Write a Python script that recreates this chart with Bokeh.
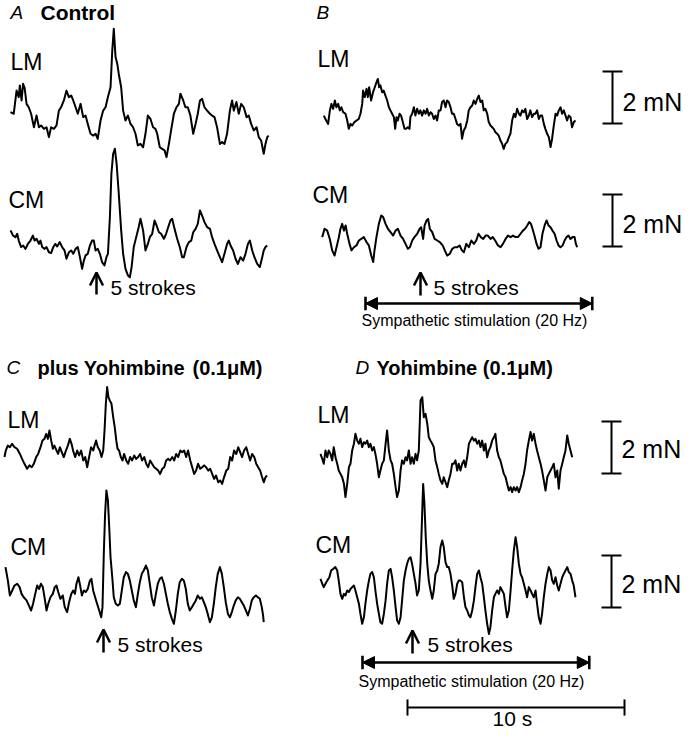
from bokeh.plotting import figure
from bokeh.models import Range1d, Arrow, OpenHead, NormalHead
from bokeh.core.properties import value
from bokeh.embed import file_html
from bokeh.resources import INLINE

# ---------------- data: time (s) and force (mN, relative to trace baseline) ----------------
A_LM_T = [0, .15, .28, .38, .43, .51, .58, .65, .74, .84, .95, 1.08, 1.20, 1.31, 1.41, 1.54, 1.66, 1.77, 1.87, 2.00,
          2.12, 2.23, 2.33, 2.46, 2.58, 2.69, 2.80, 2.89, 3.00, 3.10, 3.23, 3.35, 3.46, 3.56, 3.69, 3.81, 3.92, 4.02, 4.15, 4.27,
          4.38, 4.49, 4.61, 4.69, 4.76, 4.84, 4.92, 4.99, 5.10, 5.19, 5.30, 5.41, 5.53, 5.65, 5.76, 5.87, 5.99, 6.11, 6.22, 6.33,
          6.45, 6.57, 6.68, 6.76, 6.88, 6.99, 7.10, 7.19, 7.30, 7.40, 7.53, 7.65, 7.76, 7.83, 7.96, 8.06, 8.17, 8.29, 8.42, 8.53,
          8.63, 8.73, 8.83, 8.94, 9.06, 9.19, 9.29, 9.40, 9.52, 9.65, 9.75, 9.86, 9.98, 10.11, 10.21, 10.29, 10.41, 10.52, 10.63, 10.75,
          10.88, 10.98, 11.09, 11.21, 11.34, 11.44, 11.55, 11.67, 11.75, 11.83, 11.90]
A_LM_F = [.32, .26, 1.15, .90, 1.35, .77, 1.41, 1.26, .64, .51, .26, -.26, .19, -.26, -.19, -.32, -.26, -.64, -.26, -.32,
          -.19, .38, .51, .77, 1.15, .90, .96, .77, .51, .26, .64, .13, .19, -.13, -.51, -.58, -.51, -.71, 0, .38,
          .51, .90, 1.28, 2.69, 3.53, 2.44, 2.18, 1.79, 1.28, .38, 0, .19, -.13, -.26, -.51, -.96, -.90, -1.03, -.51, .19,
          .06, -.26, -.32, -.51, -1.03, -1.09, -1.15, -1.41, -.90, -.38, .26, .51, .64, 1.03, .77, .51, .51, .19, -.51, -.13,
          .26, .77, .83, .51, .38, .26, .19, .13, -.26, -.90, -.83, -.90, -.51, .38, .77, .38, .71, .26, .64, .51,
          .13, .19, -.13, -.38, -.26, -.64, -.77, -1.28, -.90, -.64, -.58]

A_CM_T = [0, .12, .23, .31, .38, .49, .58, .69, .80, .92, 1.03, 1.11, 1.20, 1.31, 1.38, 1.46, 1.57, 1.66, 1.77, 1.87,
          1.97, 2.07, 2.15, 2.27, 2.38, 2.49, 2.58, 2.69, 2.80, 2.89, 3.00, 3.10, 3.20, 3.30, 3.38, 3.46, 3.56, 3.66, 3.76, 3.84,
          3.92, 4.02, 4.12, 4.22, 4.33, 4.42, 4.49, 4.58, 4.65, 4.73, 4.81, 4.89, 4.99, 5.10, 5.19, 5.30, 5.41, 5.50, 5.58, 5.68,
          5.81, 5.91, 5.99, 6.11, 6.22, 6.33, 6.42, 6.53, 6.64, 6.73, 6.84, 6.94, 7.07, 7.17, 7.27, 7.37, 7.45, 7.56, 7.68, 7.80,
          7.91, 7.99, 8.11, 8.22, 8.33, 8.42, 8.53, 8.63, 8.73, 8.83, 8.94, 9.06, 9.19, 9.29, 9.40, 9.52, 9.65, 9.75, 9.86, 9.98,
          10.06, 10.14, 10.26, 10.37, 10.48, 10.60, 10.72, 10.83, 10.94, 11.03, 11.14, 11.24, 11.37, 11.49, 11.60, 11.67, 11.75, 11.83]
A_CM_F = [.58, .38, .32, .45, .19, -.06, 0, -.13, .06, .19, .38, .19, .26, .06, .19, -.06, -.13, -.06, -.26, -.29,
          -.06, .06, -.04, .13, -.06, -.19, -.51, -.26, -.19, -.32, -.13, -.06, -.45, -.90, -.58, -.38, -.32, 0, .19, .19,
          -.19, -.13, -.32, -.64, -.77, -.45, -.32, 1.09, 2.76, 3.53, 3.72, 3.14, 1.99, .58, -.32, -.90, -1.15, -1.22, -.83, -.06,
          .38, .71, 1.03, .58, -.19, .06, .32, .45, .96, .77, .51, .45, .26, .45, .71, .96, 1.03, .64, .26, -.06,
          -.45, -.45, -.06, .13, .19, .51, .64, .83, 1.35, 1.15, .90, .71, .64, .32, .06, -.19, -.45, -.64, -.32, .06,
          .19, 0, -.19, -.51, -.71, -.45, -.58, -.32, .06, .19, -.19, -.45, -.71, -.83, -.45, -.19, -.06, 0]

B_LM_T = [0, .11, .20, .28, .35, .43, .51, .58, .66, .74, .81, .89, 1.00, 1.08, 1.15, 1.23, 1.31, 1.41, 1.51, 1.61,
          1.69, 1.77, 1.81, 1.89, 1.97, 2.03, 2.09, 2.18, 2.27, 2.35, 2.43, 2.49, 2.55, 2.61, 2.69, 2.76, 2.84, 2.92, 3.00, 3.07,
          3.15, 3.23, 3.29, 3.35, 3.41, 3.49, 3.56, 3.64, 3.72, 3.79, 3.87, 3.95, 3.99, 4.07, 4.15, 4.22, 4.30, 4.38, 4.45, 4.53,
          4.61, 4.69, 4.76, 4.84, 4.92, 4.99, 5.07, 5.15, 5.22, 5.30, 5.38, 5.45, 5.53, 5.61, 5.68, 5.76, 5.84, 5.91, 5.99, 6.07,
          6.14, 6.22, 6.30, 6.37, 6.45, 6.53, 6.61, 6.68, 6.76, 6.84, 6.91, 6.99, 7.07, 7.14, 7.22, 7.30, 7.37, 7.45, 7.53, 7.60,
          7.68, 7.76, 7.83, 7.91, 7.99, 8.06, 8.14, 8.22, 8.29, 8.37, 8.45, 8.53, 8.60, 8.68, 8.76, 8.83, 8.91, 8.99, 9.06, 9.14,
          9.22, 9.29, 9.37, 9.45, 9.52, 9.60, 9.68, 9.75, 9.83, 9.91, 9.98, 10.06, 10.14, 10.21, 10.29, 10.37, 10.45, 10.52, 10.60, 10.68,
          10.75, 10.83, 10.91, 10.98, 11.06, 11.14, 11.21, 11.29, 11.37, 11.44, 11.52, 11.60]
B_LM_F = [-.58, -.77, -.90, -.38, -.13, -.32, 0, -.26, -.13, -.38, -.26, -.45, -.51, -.77, -1.09, -.90, -.96, -.83, -.77, -.71,
          -.51, -.13, .38, .13, .45, .13, .51, 0, .32, .51, .71, .83, .51, .58, .32, .38, .19, 0, -.26, -.38,
          -.51, -.64, -1.09, -.64, -.77, -.51, -.58, -.83, -1.09, -1.09, -1.03, -1.09, -.64, -.51, -.26, -.58, -.32, -.51, -.38, -.58,
          -.38, -.51, -.32, -.58, -.45, -.51, -.71, -.58, -.77, -.38, -.38, -.06, 0, -.26, 0, -.06, -.26, -.51, -.51, -.71,
          -.90, -.96, -.90, -1.47, -1.15, -1.03, -.77, -.38, -.26, -.19, 0, -.13, .06, .19, -.06, 0, -.38, -.32, -.51, -.83,
          -.96, -1.03, -1.09, -1.22, -1.28, -1.35, -1.54, -1.67, -1.86, -1.67, -1.60, -1.41, -1.28, -.77, -.51, -.64, -.32, -.51, -.58, -.38,
          -.45, -.32, -.71, -.58, -.38, -.64, -.51, -.51, -.38, -.71, -.58, -.58, -.90, -1.09, -1.28, -1.41, -1.79, -1.47, -.96, -.51,
          -.58, -.38, -.26, -.51, -.38, -.58, -.77, -.58, -.64, -1.03, -.83, -.77]

B_CM_T = [0, .11, .23, .35, .46, .57, .66, .77, .84, .92, 1.00, 1.08, 1.15, 1.26, 1.35, 1.46, 1.58, 1.69, 1.80, 1.92,
          2.04, 2.15, 2.26, 2.35, 2.41, 2.50, 2.61, 2.72, 2.81, 2.92, 3.03, 3.15, 3.27, 3.38, 3.49, 3.61, 3.73, 3.84, 3.95, 4.04,
          4.15, 4.25, 4.38, 4.49, 4.56, 4.65, 4.72, 4.81, 4.88, 4.96, 5.07, 5.18, 5.30, 5.42, 5.55, 5.65, 5.76, 5.88, 5.99, 6.10,
          6.22, 6.33, 6.44, 6.53, 6.64, 6.76, 6.87, 6.99, 7.10, 7.20, 7.31, 7.42, 7.53, 7.63, 7.76, 7.86, 7.97, 8.10, 8.22, 8.33,
          8.45, 8.56, 8.68, 8.79, 8.91, 9.02, 9.14, 9.25, 9.35, 9.45, 9.54, 9.62, 9.69, 9.78, 9.88, 9.97, 10.06, 10.15, 10.25, 10.34,
          10.43, 10.52, 10.61, 10.71, 10.80, 10.89, 10.98, 11.08, 11.17, 11.26, 11.35, 11.44, 11.54, 11.63, 11.69, 11.75]
B_CM_F = [.13, .45, .38, .06, -.38, -.58, -.26, .13, .45, .64, .38, .58, .26, -.13, -.38, -.26, -.19, 0, .06, .13,
          -.06, -.19, -.58, -.83, -.38, .13, .64, .96, .90, .64, .45, .32, .19, .38, .45, .19, .06, -.13, -.32, -.26,
          0, .13, .26, .45, .51, .06, .58, .77, .83, .45, .32, .06, 0, -.06, -.19, -.38, -.58, -.51, -.32, -.26,
          -.26, -.19, -.38, -.45, -.13, -.26, 0, -.13, 0, .26, .13, .06, .19, .19, .06, .13, 0, -.19, -.26, -.13,
          .06, .19, .13, .19, .13, .13, .26, .38, .45, .58, .71, .64, .45, .19, -.13, -.32, -.26, .26, .58, .77,
          .58, .51, .38, .26, 0, -.19, -.26, -.19, 0, .13, .19, .06, .13, .13, -.13, -.26]

C_LM_T = [0, .06, .15, .25, .35, .46, .58, .71, .81, .92, 1.04, 1.15, 1.26, 1.35, 1.46, 1.55, 1.66, 1.75, 1.84, 1.92,
          2.00, 2.07, 2.15, 2.23, 2.30, 2.40, 2.47, 2.55, 2.64, 2.73, 2.83, 2.92, 3.01, 3.09, 3.16, 3.26, 3.35, 3.44, 3.53, 3.63,
          3.72, 3.81, 3.90, 3.99, 4.09, 4.15, 4.22, 4.30, 4.39, 4.47, 4.55, 4.61, 4.67, 4.73, 4.79, 4.85, 4.93, 5.01, 5.08, 5.15,
          5.21, 5.28, 5.36, 5.44, 5.51, 5.61, 5.70, 5.79, 5.88, 5.98, 6.07, 6.16, 6.25, 6.34, 6.44, 6.53, 6.62, 6.71, 6.80, 6.90,
          6.99, 7.08, 7.17, 7.27, 7.36, 7.45, 7.54, 7.63, 7.73, 7.82, 7.91, 8.00, 8.10, 8.19, 8.28, 8.37, 8.46, 8.56, 8.65, 8.74,
          8.83, 8.92, 9.02, 9.11, 9.20, 9.29, 9.39, 9.48, 9.57, 9.66, 9.75, 9.85, 9.94, 10.03, 10.12, 10.22, 10.31, 10.40, 10.49, 10.58,
          10.68, 10.77, 10.86, 10.95, 11.04, 11.14, 11.23, 11.32, 11.41, 11.51, 11.60, 11.69, 11.78, 11.87, 11.95, 12.03, 12.10]
C_LM_F = [-.06, .19, .38, .32, .45, .32, .26, .06, -.13, -.32, -.51, -.38, -.45, -.32, -.06, .06, .32, .58, .64, .83,
          .64, .96, .58, .26, .38, .19, .06, .32, .13, -.06, .19, .38, .64, .45, .19, -.06, .19, 0, .19, -.19,
          -.06, -.45, -.06, .32, .19, .38, .58, .32, .19, -.06, .19, .96, 1.99, 2.63, 2.24, 2.12, 1.99, 1.47, 1.09, .58,
          .26, .19, -.06, -.19, .06, -.19, -.32, -.06, -.19, 0, -.13, -.06, .06, -.19, -.06, -.32, -.45, -.19, -.32, -.45,
          -.51, -.58, -.71, -.51, -.45, -.19, -.13, -.19, -.06, -.19, .06, -.06, .19, .13, .19, -.06, .19, -.19, -.45, -.71,
          -.58, -.32, -.51, -.45, -.38, -.45, -.58, -.51, -.71, -.90, -.77, -1.03, -.96, -1.09, -.83, -.58, -.51, -.06, -.19, .19,
          .06, .32, .13, -.06, .19, .32, .06, -.19, .06, -.06, -.32, -.45, -.58, -.83, -1.03, -.83, -.77]

C_CM_T = [0, .11, .20, .31, .41, .54, .65, .74, .84, .97, 1.08, 1.18, 1.27, 1.37, 1.46, 1.55, 1.63, 1.72, 1.81, 1.89,
          1.97, 2.07, 2.18, 2.27, 2.35, 2.43, 2.53, 2.64, 2.73, 2.84, 2.93, 3.03, 3.12, 3.20, 3.27, 3.36, 3.44, 3.52, 3.61, 3.70,
          3.79, 3.89, 3.96, 4.04, 4.13, 4.22, 4.32, 4.41, 4.47, 4.53, 4.59, 4.65, 4.72, 4.78, 4.84, 4.92, 4.99, 5.08, 5.18, 5.27,
          5.36, 5.45, 5.55, 5.64, 5.73, 5.82, 5.91, 6.01, 6.10, 6.19, 6.28, 6.37, 6.47, 6.56, 6.65, 6.74, 6.84, 6.93, 7.02, 7.11,
          7.20, 7.30, 7.39, 7.48, 7.57, 7.67, 7.76, 7.85, 7.94, 8.03, 8.13, 8.22, 8.31, 8.40, 8.49, 8.59, 8.68, 8.77, 8.86, 8.96,
          9.05, 9.14, 9.23, 9.32, 9.42, 9.51, 9.60, 9.69, 9.78, 9.88, 9.97, 10.06, 10.15, 10.25, 10.34, 10.43, 10.52, 10.61, 10.71, 10.80,
          10.89, 10.98, 11.08, 11.17, 11.26, 11.35, 11.44, 11.54, 11.63, 11.72, 11.81, 11.87, 11.90]
C_CM_F = [.90, .38, -.19, 0, .19, .26, .13, -.13, -.26, -.38, -.58, -.77, -.51, -.13, .19, .06, .26, .13, -.32, -.77,
          -.51, -.26, -.13, .13, .19, -.06, -.32, -.19, -.64, -.83, -.45, -.13, 0, -.13, .26, .51, .19, -.19, 0, -.06,
          .06, .38, .45, 0, -.26, -.51, -.77, -1.03, -.64, 1.41, 2.95, 3.85, 3.46, 2.44, 1.28, .51, -.26, -.51, -.58, -.51,
          0, .51, .71, .64, .38, 0, -.38, -.64, -.13, .32, .64, .77, .96, .77, .26, -.26, -.58, -.13, .26, .45,
          .51, .26, -.13, -.51, -.83, -1.09, -1.28, -.77, -.13, .32, .45, .38, .06, -.51, -.77, -.64, -.51, -.38, -.19, -.32,
          -.26, -.45, -.64, -.90, -1.22, -1.03, -.51, .13, .64, .90, .64, .13, -.45, -.90, -1.03, -.83, -.58, -.38, -.26, -.32,
          -.45, -.58, -.77, -.96, -.71, -.38, -.26, -.19, -.26, -.32, -.64, -.96, -1.22]

D_LM_T = [0, .08, .15, .23, .31, .38, .46, .54, .61, .69, .77, .84, .92, 1.00, 1.08, 1.15, 1.23, 1.31, 1.38, 1.46,
          1.54, 1.61, 1.69, 1.77, 1.84, 1.92, 2.00, 2.07, 2.15, 2.23, 2.30, 2.38, 2.46, 2.53, 2.61, 2.69, 2.76, 2.84, 2.92, 3.00,
          3.07, 3.15, 3.23, 3.30, 3.38, 3.46, 3.53, 3.61, 3.69, 3.76, 3.84, 3.92, 3.99, 4.07, 4.15, 4.22, 4.30, 4.38, 4.45, 4.53,
          4.61, 4.69, 4.76, 4.84, 4.92, 4.99, 5.07, 5.15, 5.22, 5.30, 5.38, 5.45, 5.53, 5.61, 5.68, 5.76, 5.84, 5.91, 5.99, 6.07,
          6.14, 6.22, 6.30, 6.37, 6.45, 6.53, 6.61, 6.68, 6.76, 6.84, 6.91, 6.99, 7.07, 7.14, 7.22, 7.30, 7.37, 7.45, 7.53, 7.60,
          7.68, 7.76, 7.83, 7.91, 7.99, 8.06, 8.14, 8.22, 8.29, 8.37, 8.45, 8.53, 8.60, 8.68, 8.76, 8.83, 8.91, 8.99, 9.06, 9.14,
          9.22, 9.29, 9.37, 9.45, 9.52, 9.60, 9.68, 9.75, 9.83, 9.91, 9.98, 10.06, 10.14, 10.21, 10.29, 10.37, 10.45, 10.52, 10.60, 10.68,
          10.75, 10.83, 10.91, 10.98, 11.06, 11.14, 11.21, 11.29, 11.37, 11.44, 11.52, 11.60]
D_LM_F = [-.13, -.32, -.51, 0, -.26, 0, -.13, -.38, .13, -.26, -.51, -.77, -.90, -1.03, -1.28, -1.79, -1.28, -.64, -.51, 0,
          .26, .64, .38, .26, .45, .13, .32, .26, .38, .13, .26, 0, .13, -.13, -.51, -1.03, -.77, -.51, -.38, .26,
          .77, 0, -.38, -.51, -.90, -1.41, -1.79, -1.54, -.77, -.38, -.51, -.26, -.38, 0, -.51, -.26, -.51, -.13, -.38, 0,
          1.92, 2.05, 1.28, 1.41, 1.03, .51, .38, .26, .13, -.38, -.64, -.90, -1.15, -1.28, -1.03, -1.22, -1.41, -1.15, -.90, -.51,
          -.51, -.38, -.77, -.51, -.77, -.51, -.38, -.64, -.26, .26, .38, .51, .38, .45, .26, .38, .13, .38, 0, .26,
          -.26, 0, .13, .38, .51, .64, 0, -.26, -.38, -.64, -.90, -1.03, -1.28, -1.54, -1.41, -1.60, -1.41, -1.54, -1.41, -1.60,
          -1.41, -1.15, -.90, -.51, 0, .38, .71, .38, .64, .26, 0, -.26, -.51, -.77, -1.15, -1.54, -1.03, -.90, -.77, -.64,
          -.51, -1.03, -.77, -1.47, -.77, -.51, -.26, 0, .58, .26, 0, -.26]

D_CM_T = [0, .08, .15, .23, .31, .41, .49, .58, .68, .77, .84, .92, 1.00, 1.08, 1.15, 1.23, 1.31, 1.38, 1.46, 1.54,
          1.61, 1.69, 1.77, 1.84, 1.92, 2.00, 2.07, 2.15, 2.23, 2.30, 2.38, 2.46, 2.53, 2.61, 2.69, 2.76, 2.84, 2.92, 3.00, 3.07,
          3.15, 3.23, 3.30, 3.38, 3.46, 3.53, 3.61, 3.69, 3.76, 3.84, 3.92, 3.99, 4.07, 4.15, 4.22, 4.30, 4.38, 4.45, 4.53, 4.61,
          4.69, 4.73, 4.79, 4.85, 4.92, 4.99, 5.07, 5.15, 5.22, 5.30, 5.38, 5.45, 5.53, 5.61, 5.68, 5.76, 5.84, 5.91, 5.99, 6.07,
          6.14, 6.22, 6.30, 6.37, 6.45, 6.53, 6.61, 6.68, 6.76, 6.84, 6.91, 6.99, 7.07, 7.14, 7.22, 7.30, 7.37, 7.45, 7.53, 7.60,
          7.68, 7.76, 7.83, 7.91, 7.99, 8.06, 8.14, 8.22, 8.29, 8.37, 8.45, 8.53, 8.60, 8.68, 8.76, 8.83, 8.91, 8.99, 9.06, 9.14,
          9.22, 9.29, 9.37, 9.45, 9.52, 9.60, 9.68, 9.75, 9.83, 9.91, 9.98, 10.06, 10.14, 10.21, 10.29, 10.37, 10.45, 10.52, 10.60, 10.68,
          10.75, 10.83, 10.91, 10.98, 11.06, 11.14, 11.21, 11.29, 11.37, 11.44, 11.52, 11.60, 11.67, 11.75]
D_CM_F = [.45, .26, .13, .26, .38, .51, .77, .83, .90, .77, .38, -.13, -.32, -.13, -.19, 0, -.06, .06, .13, .19,
          0, -.26, -.51, -.90, -1.28, -1.03, -.51, 0, .38, .64, .71, .51, 0, -.51, -.90, -1.22, -1.28, -.90, -.38, .26,
          .77, .83, .51, 0, -.64, -1.15, -1.28, -1.03, -.38, .38, .77, 1.03, 1.22, 1.28, 1.03, .64, .26, -.19, 0, 1.03,
          3.08, 4.10, 3.33, 2.05, 1.03, .38, 0, -.32, 0, .64, .77, 1.03, 1.67, 1.92, 1.67, 1.09, .90, .90, .64, .19,
          -.32, -.13, .26, .38, .38, .32, -.26, -.64, -.77, -.96, -1.03, -.77, -.38, .13, .64, .77, .51, .26, -.26, -.77,
          -1.28, -1.67, -1.41, -.77, -.26, -.13, 0, -.13, .13, 0, -.13, -.64, -1.03, -.77, 0, .77, 1.54, 2.05, 1.67, 1.03,
          .64, .51, .26, 0, -.26, .13, 0, -.13, -.26, 0, -.51, -1.03, -1.28, -.90, -.26, .26, .64, .90, .77, .38,
          .26, .51, .19, 0, .26, .51, .64, .77, .90, .71, .64, .38, .19, -.26]

SCALE_FORCE_MN = 2      # vertical calibration bars
SCALE_TIME_S = 10       # horizontal time bar
STIM_DURATION_S = 10.45 # sympathetic stimulation period

# ---------------- layout ----------------
PX_PER_S = 21.7
PX_PER_MN = 26.0
W, H = 684, 734
FONT = value("Liberation Sans")


def X(px):
    return px / PX_PER_S


def Y(py):
    return -py / PX_PER_MN


p = figure(width=W, height=H, output_backend="svg", toolbar_location=None,
           x_range=Range1d(X(0), X(W)), y_range=Range1d(Y(H), Y(0)),
           x_axis_location=None, y_axis_location=None,
           min_border=0, min_border_left=0, min_border_right=0, min_border_top=0, min_border_bottom=0)
p.grid.visible = False
p.outline_line_color = None
p.background_fill_color = "white"
p.border_fill_color = "white"

traces = [
    (A_LM_T, A_LM_F, 10, 120),
    (A_CM_T, A_CM_F, 10, 245),
    (B_LM_T, B_LM_F, 323.3, 100),
    (B_CM_T, B_CM_F, 321.7, 240),
    (C_LM_T, C_LM_F, 4, 455),
    (C_CM_T, C_CM_F, 5, 590),
    (D_LM_T, D_LM_F, 320, 450),
    (D_CM_T, D_CM_F, 320, 590),
]
for ts, fs, x0, base in traces:
    n = min(len(ts), len(fs))
    p.line([X(x0) + t for t in ts[:n]], [Y(base) + f for f in fs[:n]],
           line_color="black", line_width=2.0, line_join="round")


def label(px, py, s, size, style="normal"):
    # py is the wanted baseline; the svg text sits a little low, so lift it
    adj = py - (0.2 * size + 4)
    p.text(x=[X(px)], y=[Y(adj)], text=[s], text_font=FONT, text_font_size=f"{size}px",
           text_font_style=style, text_align="left", text_baseline="alphabetic", text_color="black")


# panel titles
label(10, 20, "A", 19, "italic")
label(40, 20, "Control", 21, "bold")
label(316, 20, "B", 19, "italic")
label(6, 375, "C", 19, "italic")
label(37, 375, "plus Yohimbine", 20, "bold")
label(192, 375, "(0.1μM)", 20, "bold")
label(355, 375, "D", 19, "italic")
label(376, 375, "Yohimbine (0.1μM)", 20, "bold")

# trace labels
for x, y, s in [(10, 70, "LM"), (8, 208, "CM"), (317, 67, "LM"), (312, 203, "CM"),
                (7, 428, "LM"), (10, 555, "CM"), (317, 423, "LM"), (315, 553, "CM")]:
    label(x, y, s, 23)

# calibration bars (2 mN)
for bx, by_bottom, ty in [(612, 123, 110), (612, 246, 232), (611, 473, 457), (611, 607, 592)]:
    y0 = Y(by_bottom)
    y1 = y0 + SCALE_FORCE_MN
    p.segment(x0=[X(bx)], y0=[y0], x1=[X(bx)], y1=[y1], line_color="black", line_width=2)
    p.segment(x0=[X(bx - 10), X(bx - 10)], y0=[y0, y1], x1=[X(bx + 10), X(bx + 10)], y1=[y0, y1],
              line_color="black", line_width=2)
    label(bx + 10, ty, "2 mN", 25)

# "5 strokes" markers
for ax, ytop, ybot, tx, ty in [(96, 272, 294, 110, 295), (420, 272, 295, 433, 295),
                               (103, 629, 652, 117, 652), (412, 630, 653, 427, 652)]:
    p.add_layout(Arrow(end=OpenHead(size=13, line_width=2.5, line_color="black"),
                       x_start=X(ax), y_start=Y(ybot), x_end=X(ax), y_end=Y(ytop),
                       line_width=2.5, line_color="black"))
    label(tx, ty, "5 strokes", 21)

# sympathetic stimulation bars
for sx, sy, ty in [(365, 303, 327), (362, 662, 688)]:
    xs, xe, yy = X(sx), X(sx) + STIM_DURATION_S, Y(sy)
    p.add_layout(Arrow(start=NormalHead(size=12, fill_color="black", line_color="black"),
                       end=NormalHead(size=12, fill_color="black", line_color="black"),
                       x_start=xs, y_start=yy, x_end=xe, y_end=yy, line_width=2.6, line_color="black"))
    p.segment(x0=[xs, xe], y0=[yy + 0.26, yy + 0.26], x1=[xs, xe], y1=[yy - 0.26, yy - 0.26],
              line_color="black", line_width=2.6)
    label(sx - 4, ty, "Sympathetic stimulation (20 Hz)", 16)

# time bar
tx0 = X(407)
ty0 = Y(707)
p.segment(x0=[tx0], y0=[ty0], x1=[tx0 + SCALE_TIME_S], y1=[ty0], line_color="black", line_width=2)
p.segment(x0=[tx0, tx0 + SCALE_TIME_S], y0=[ty0 + 0.31, ty0 + 0.31], x1=[tx0, tx0 + SCALE_TIME_S],
          y1=[ty0 - 0.31, ty0 - 0.31], line_color="black", line_width=2)
label(492, 726, "10 s", 21)

open("out.html", "w").write(file_html(p, INLINE))
